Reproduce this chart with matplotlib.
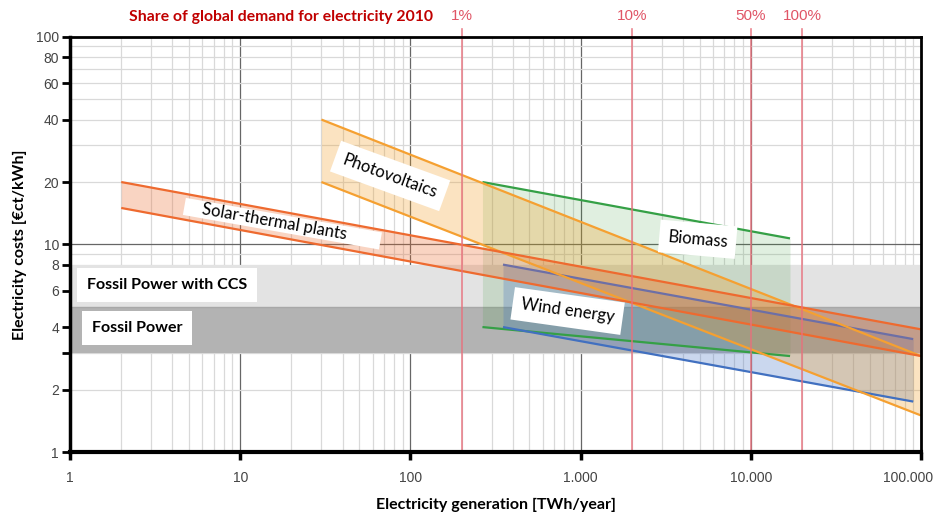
import matplotlib.pyplot as plt
from matplotlib.ticker import FixedLocator, NullLocator
from matplotlib.transforms import ScaledTranslation

# cost corridors: x in TWh/year, y in €ct/kWh (start, end)
pv_x = [30, 100000]
pv_hi = [40, 2.9]
pv_lo = [20, 1.5]

solar_x = [2, 100000]
solar_hi = [20, 3.9]
solar_lo = [15, 2.9]

bio_x = [265, 17000]
bio_hi = [20, 10.7]
bio_lo = [4.0, 2.9]

wind_x = [350, 90000]
wind_hi = [8, 3.5]
wind_lo = [4.0, 1.75]

fossil_ccs = [5, 8]
fossil = [3, 5]

# share of 2010 global electricity demand
share_labels = ['1%', '10%', '50%', '100%']
share_twh = [200, 2000, 10000, 20000]

y_ticks = [1, 2, 3, 4, 6, 8, 10, 20, 40, 60, 80, 100]
y_ticklabels = ['1', '2', '', '4', '6', '8', '10', '20', '40', '60', '80', '100']
x_ticks = [1, 10, 100, 1000, 10000, 100000]
x_ticklabels = ['1', '10', '100', '1.000', '10.000', '100.000']

fig = plt.figure(figsize=(9.39, 5.17), dpi=100)
ax = fig.add_axes([70/939, 65/517, 851/939, 415/517])
ax.set_xscale('log')
ax.set_yscale('log')
ax.set_xlim(1, 100000)
ax.set_ylim(1, 100)

# grid drawn by hand: dark decade lines, light lines in between
for dec in [1, 10, 100, 1000, 10000]:
    for m in range(1, 10):
        v = dec * m
        if v <= 1 or v >= 100000:
            continue
        c = '#666666' if m == 1 else '#d9d9d9'
        ax.axvline(v, color=c, lw=0.9, zorder=0.3)
for dec in [1, 10]:
    for m in range(1, 10):
        v = dec * m
        if v <= 1 or v >= 100:
            continue
        c = '#666666' if m == 1 else '#d9d9d9'
        ax.axhline(v, color=c, lw=0.9, zorder=0.3)

ax.axhspan(*fossil_ccs, color='#e3e3e3', zorder=1, lw=0)
ax.axhspan(*fossil, color='#b3b3b3', zorder=1, lw=0)
ax.axhline(fossil[1], color='#a8a8a8', lw=1, zorder=1.1)

bands = [
    (bio_x, bio_lo, bio_hi, '#339933', 0.15, '#35a046', '#35a046'),
    (wind_x, wind_lo, wind_hi, '#4472c4', 0.28, '#4170c0', '#6d6fa6'),
    (pv_x, pv_lo, pv_hi, '#f29a1a', 0.27, '#f5a031', '#f5a031'),
    (solar_x, solar_lo, solar_hi, '#ed6626', 0.28, '#ee6a2f', '#ee6a2f'),
]
for x, lo, hi, fc, a, c_lo, c_hi in bands:
    ax.fill_between(x, lo, hi, color=fc, alpha=a, lw=0, zorder=2)
for x, lo, hi, fc, a, c_lo, c_hi in bands:
    ax.plot(x, lo, color=c_lo, lw=1.6, zorder=3, solid_capstyle='butt')
    ax.plot(x, hi, color=c_hi, lw=1.6, zorder=3, solid_capstyle='butt')

trans = ax.get_xaxis_transform()
for lab, v in zip(share_labels, share_twh):
    ax.axvline(v, ymin=0, ymax=1.02, color='#e8707c', lw=1.2, alpha=0.85,
               zorder=4, clip_on=False)
    ax.text(v, 1.05, lab, transform=trans, ha='center', va='center',
            color='#e05566', fontsize=11, family='Liberation Sans')

fig.text(433/939, 1 - 17/517, 'Share of global demand for electricity 2010',
         ha='right', va='center', color='#c00000', fontsize=11.3,
         fontweight='bold', family='Lato')

box = dict(facecolor='white', edgecolor='none', pad=6)
lab_kw = dict(family='Lato', fontsize=12, ha='center', va='center',
              rotation_mode='anchor', zorder=5, bbox=box)
ax.text(76, 21.4, 'Photovoltaics', rotation=-20, **lab_kw)
ax.text(17.7, 12.6, '    Solar-thermal plants        ', rotation=-10,
        **{**lab_kw, 'fontsize': 12,
           'bbox': dict(facecolor='white', edgecolor='none', pad=0.5)})
ax.text(4875, 10.6, 'Biomass', rotation=-5, **lab_kw)
ax.text(839, 4.78, 'Wind energy', rotation=-8, **lab_kw)

fkw = dict(family='Lato', fontsize=11.5, fontweight='bold', ha='left',
           va='center', zorder=5,
           bbox=dict(facecolor='white', edgecolor='none', pad=7))
ax.text(1.26, 6.38, 'Fossil Power with CCS', **fkw)
ax.text(1.34, 3.96, 'Fossil Power', **fkw)

ax.yaxis.set_major_locator(FixedLocator(y_ticks))
ax.set_yticklabels(y_ticklabels)
ax.yaxis.set_minor_locator(NullLocator())
ax.xaxis.set_major_locator(FixedLocator(x_ticks))
ax.set_xticklabels(x_ticklabels)
ax.xaxis.set_minor_locator(NullLocator())
ax.tick_params(axis='y', length=6, width=2, pad=2, labelsize=10,
               labelcolor='#444444')
ax.tick_params(axis='x', length=6, width=2.5, pad=8, labelsize=10,
               labelcolor='#444444')
for lab in ax.get_xticklabels() + ax.get_yticklabels():
    lab.set_family('Liberation Sans')
# keep the last x label inside the figure
last = ax.get_xticklabels()[-1]
last.set_transform(last.get_transform()
                   + ScaledTranslation(-9/72, 0, fig.dpi_scale_trans))

for s in ax.spines.values():
    s.set_linewidth(2)
    s.set_zorder(6)
ax.spines['bottom'].set_linewidth(3)
ax.spines['left'].set_linewidth(2.5)

ax.set_xlabel('Electricity generation [TWh/year]', family='Lato',
              fontweight='bold', fontsize=11.5, labelpad=9)
ax.set_ylabel('Electricity costs [€ct/kWh]', family='Lato',
              fontweight='bold', fontsize=11.5, labelpad=6)

fig.savefig('out.png', dpi=100)
